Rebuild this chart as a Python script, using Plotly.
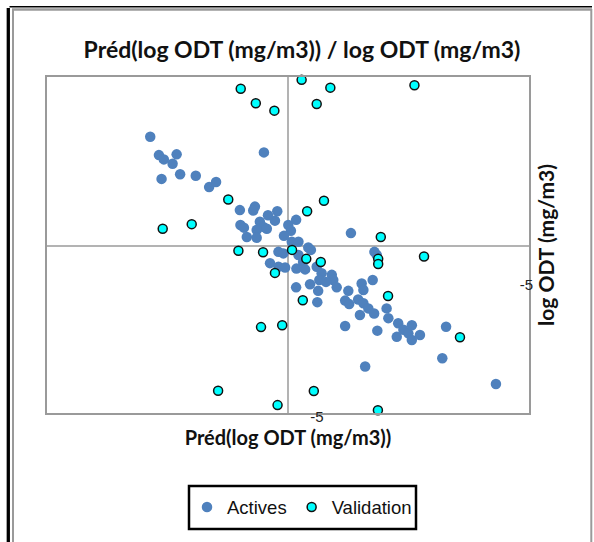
import plotly.graph_objects as go

# ---------------- data ----------------
actives_x = [-10.75, -10.45, -10.28, -9.84, -9.98, -10.36, -9.72, -9.18, -8.72, -8.48, -6.83,
             -7.66, -7.14, -7.20, -6.37, -6.45, -7.64, -7.52, -6.97, -6.85, -7.08, -6.73, -7.42,
             -7.08, -5.72, -5.99, -5.90, -5.87, -5.64, -5.30, -5.21, -5.64, -6.33, -6.62, -6.33,
             -6.10, -5.71, -5.41, -6.16, -3.83, -5.72, -6.69, -6.14,
             -5.01, -4.84, -4.49, -4.44, -4.92, -5.24, -4.96, -4.32, -4.99, -3.92, -3.46, -3.08,
             -3.40, -4.03, -3.89, -3.58, -3.40, -3.23, -3.03, -3.52, -2.60, -2.54, -4.03, -2.92,
             -2.20, -2.25, -2.02, -1.85, -1.73, -1.73, -1.45, -0.55, -0.68, -3.34, 1.17, -3.02,
             -2.94, -5.48, -4.69]
actives_y = [-8.80, -8.33, -8.22, -8.35, -8.11, -7.72, -7.84, -7.80, -7.51, -7.64, -8.40,
             -6.92, -7.01, -6.91, -6.89, -6.65, -6.54, -6.47, -6.62, -6.49, -6.41, -6.44, -6.23,
             -6.21, -6.67, -6.54, -6.39, -6.11, -6.11, -5.96, -5.90, -5.77, -5.85, -5.56, -5.47,
             -5.45, -5.42, -5.40, -5.81, -6.33, -4.94, -6.79, -6.26,
             -5.47, -5.30, -5.26, -5.13, -5.13, -5.02, -4.85, -4.94, -4.56, -4.85, -5.04, -5.13,
             -4.87, -4.60, -4.51, -4.63, -4.53, -4.40, -4.27, -4.23, -4.40, -4.15, -3.95, -3.83,
             -4.02, -3.67, -3.85, -3.76, -3.97, -3.59, -3.72, -3.93, -3.12, -2.91, -2.46, -5.85,
             -5.77, -5.59, -5.08]

validation_x = [-7.63, -7.11, -6.47, -8.06, -9.32, -10.32, -7.71, -6.86, -5.86, -6.45, -6.93,
                -6.20, -8.41, -6.36, -5.49, -5.53, -4.54, -1.64, -5.01, -4.76, -5.34, -2.80,
                -5.37, -4.87, -2.89, -2.89, -1.31, -2.55, -0.07, -5.11, -2.90]
validation_y = [-10.03, -9.66, -9.47, -7.19, -6.56, -6.44, -5.88, -5.84, -5.90, -5.31, -3.92,
                -3.97, -2.29, -1.92, -4.61, -10.26, -10.06, -10.12, -9.64, -7.16, -6.89, -6.23,
                -5.67, -5.59, -5.67, -5.54, -5.73, -4.72, -3.66, -2.28, -1.79]

x_range = [-14.31, 2.31]
y_range = [-1.718, -10.333]   # reversed axis
cross_x = -6
cross_y = -6
tick_vals = [-5]
tick_text = ["-5"]

title_text = "Préd(log ODT (mg/m3)) / log ODT (mg/m3)"
x_title = "Préd(log ODT (mg/m3))"
y_title = "log ODT (mg/m3)"

# ---------------- figure ----------------
W, H = 594, 542
ML, MR, MT, MB = 47, W - 529, 77, H - 413
PW, PH = W - ML - MR, H - MT - MB


def px(x):
    return (x - ML) / PW


def py(y):
    return (H - MB - y) / PH


GRAY = "#9a9a9a"
BLUE = "#4f81bd"

fig = go.Figure()
fig.add_trace(go.Scatter(
    x=actives_x, y=actives_y, mode="markers", name="Actives",
    marker=dict(color=BLUE, size=10.5, line=dict(width=0)),
    cliponaxis=False,
))
fig.add_trace(go.Scatter(
    x=validation_x, y=validation_y, mode="markers", name="Validation",
    marker=dict(color="#00ffff", size=9, line=dict(color="#111111", width=1.5)),
    cliponaxis=False,
))

shapes = []
# crossing axis lines
shapes.append(dict(type="line", xref="x", yref="paper", x0=cross_x, x1=cross_x, y0=0, y1=1,
                   line=dict(color=GRAY, width=1.5), layer="below"))
shapes.append(dict(type="line", xref="paper", yref="y", x0=0, x1=1, y0=cross_y, y1=cross_y,
                   line=dict(color=GRAY, width=1.5), layer="below"))
# outer frames
shapes.append(dict(type="line", xref="paper", yref="paper", x0=px(8.3), x1=px(8.3), y0=py(8), y1=py(560),
                   line=dict(color="black", width=3.3)))
shapes.append(dict(type="line", xref="paper", yref="paper", x0=px(9.5), x1=px(592), y0=py(6.7), y1=py(6.7),
                   line=dict(color="black", width=1.6)))
shapes.append(dict(type="line", xref="paper", yref="paper", x0=px(12), x1=px(592), y0=py(9.5), y1=py(9.5),
                   line=dict(color=GRAY, width=2.3)))
shapes.append(dict(type="line", xref="paper", yref="paper", x0=px(13), x1=px(13), y0=py(9), y1=py(560),
                   line=dict(color=GRAY, width=2)))
shapes.append(dict(type="line", xref="paper", yref="paper", x0=px(591.3), x1=px(591.3), y0=py(9), y1=py(560),
                   line=dict(color=GRAY, width=2)))
# legend box
shapes.append(dict(type="rect", xref="paper", yref="paper", x0=px(189), x1=px(416), y0=py(486), y1=py(529),
                   line=dict(color="black", width=2.5), fillcolor="rgba(0,0,0,0)"))

fig.update_layout(
    width=W, height=H,
    margin=dict(l=ML, r=MR, t=MT, b=MB),
    paper_bgcolor="white", plot_bgcolor="white",
    title=dict(text=title_text, x=302 / W, xanchor="center", xref="container",
               y=1 - 50 / H, yanchor="middle", yref="container",
               font=dict(family="Lato", size=23, color="#111111", weight="bold")),
    xaxis=dict(range=x_range, showgrid=False, zeroline=False, showline=True, mirror=True,
               linecolor=GRAY, linewidth=1.5, ticks="", tickvals=tick_vals, ticktext=tick_text,
               tickfont=dict(family="Liberation Sans", size=15, color="#222222"),
               ticklabelstandoff=-11, automargin=True,
               title=dict(text=x_title, standoff=6,
                          font=dict(family="Lato", size=20, color="#111111", weight="bold"))),
    yaxis=dict(range=y_range, side="right", showgrid=False, zeroline=False, showline=True, mirror=True,
               linecolor=GRAY, linewidth=1.5, ticks="", tickvals=tick_vals, ticktext=tick_text,
               tickfont=dict(family="Liberation Sans", size=15, color="#222222"),
               ticklabelstandoff=-14, automargin=True,
               title=dict(text=y_title, standoff=5,
                          font=dict(family="Lato", size=21, color="#111111", weight="bold"))),
    showlegend=True,
    legend=dict(orientation="h", x=px(302), xanchor="center", y=py(507.5), yanchor="middle",
                bgcolor="rgba(0,0,0,0)", borderwidth=0,
                font=dict(family="Liberation Sans", size=18.5, color="#111111")),
    shapes=shapes,
)

fig.write_html("out.html")
